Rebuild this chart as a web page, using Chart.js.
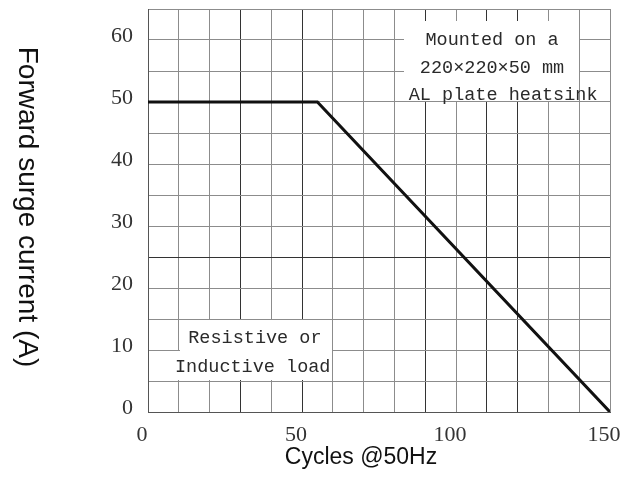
<!DOCTYPE html>
<html>
<head>
<meta charset="utf-8">
<script src="https://cdn.jsdelivr.net/npm/chart.js@4.4.0/dist/chart.umd.min.js"></script>
<style>
    html, body { margin: 0; padding: 0; background: #fff; }
    #wrap { width: 628px; height: 493px; }
</style>
</head>
<body>
<div id="wrap"><canvas id="surgeChart"></canvas></div>
<script>
// Данные кривой (циклы 50 Гц -> ток перегрузки, А)
const cycles = [0, 55, 150];
const surgeCurrent = [50, 50, 0];

// Подписи делений
const xTickLabels = [0, 50, 100, 150];
const yTickLabels = [0, 10, 20, 30, 40, 50, 60];

// Более тёмные линии сетки (как на скане)
const darkXLines = [30, 50, 90, 110, 120];
const darkYLines = [25];

// Тексты надписей
const noteHeatsink = ['Mounted on a', '220×220×50 mm', 'AL plate heatsink'];
const noteLoad = ['Resistive or', 'Inductive load'];

// Где стоят надписи и белые подложки (в единицах осей)
const notes = [
    {
        lines: noteHeatsink,
        x: [111.7, 111.7, 115.3],
        y: [60, 55.5, 51.1],
        boxes: [[82.8, 140.3, 50, 63.2]]
    },
    {
        lines: noteLoad,
        x: [34.7, 34],
        y: [11.9, 7.3],
        boxes: [[10, 60, 5, 15], [0, 60, 5, 10]]
    }
];

// Плагин: белые подложки и тексты внутри графика
const notesPlugin = {
    id: 'notes',
    beforeDatasetsDraw(chart) {
        const ctx = chart.ctx;
        const xs = chart.scales.x;
        const ys = chart.scales.y;
        ctx.save();
        ctx.fillStyle = '#fff';
        notes.forEach(function(note) {
            note.boxes.forEach(function(b) {
                const left = Math.round(xs.getPixelForValue(b[0])) + 1;
                const right = Math.round(xs.getPixelForValue(b[1])) - 1;
                const top = Math.round(ys.getPixelForValue(b[3])) + 1;
                const bottom = Math.round(ys.getPixelForValue(b[2])) - 1;
                ctx.fillRect(left, top, right - left, bottom - top);
            });
        });
        ctx.fillStyle = '#2a2a2a';
        ctx.font = '18.5px "Liberation Mono"';
        ctx.textAlign = 'center';
        ctx.textBaseline = 'middle';
        notes.forEach(function(note) {
            note.lines.forEach(function(text, i) {
                ctx.fillText(text, xs.getPixelForValue(note.x[i]), ys.getPixelForValue(note.y[i]));
            });
        });
        ctx.restore();
    }
};

// Плагин: подписи осей (Y повернута сверху вниз, X чуть левее центра)
const axisTitlesPlugin = {
    id: 'axisTitles',
    afterDraw(chart) {
        const ctx = chart.ctx;
        ctx.save();
        ctx.fillStyle = '#111';
        ctx.textAlign = 'center';
        ctx.textBaseline = 'middle';

        ctx.font = '23px "Liberation Sans"';
        ctx.fillText('Cycles @50Hz', 361, 458);

        ctx.translate(27, 207);
        ctx.rotate(Math.PI / 2);
        ctx.font = '28px "Liberation Sans"';
        ctx.fillText('Forward surge current (A)', 0, 0);
        ctx.restore();
    }
};

const tickFont = { family: '"Liberation Serif"', size: 22 };

new Chart(document.getElementById('surgeChart'), {
    type: 'line',
    data: {
        datasets: [{
            data: cycles.map((c, i) => ({ x: c, y: surgeCurrent[i] })),
            borderColor: '#111',
            borderWidth: 3,
            pointRadius: 0,
            tension: 0,
            fill: false
        }]
    },
    options: {
        responsive: true,
        maintainAspectRatio: false,
        animation: false,
        layout: { padding: { top: 9, right: 18, left: 0, bottom: 0 } },
        plugins: {
            legend: { display: false },
            tooltip: { enabled: false }
        },
        scales: {
            x: {
                type: 'linear',
                min: 0,
                max: 150,
                afterFit: function(scale) {
                    // фиксированная высота оси, без авто-отступов под подписи
                    scale.height = 81;
                    scale.paddingLeft = 0;
                    scale.paddingRight = 0;
                },
                ticks: {
                    stepSize: 10,
                    autoSkip: false,
                    maxRotation: 0,
                    padding: 10,
                    labelOffset: -6,
                    color: '#333',
                    font: tickFont,
                    callback: v => xTickLabels.includes(v) ? String(v) : ''
                },
                grid: {
                    drawTicks: false,
                    color: c => darkXLines.includes(c.tick && c.tick.value) ? '#333' : '#8c8c8c'
                },
                border: { color: '#555' }
            },
            y: {
                min: 0,
                max: 65,
                afterFit: function(scale) {
                    scale.width = 148;
                    scale.paddingTop = 0;
                    scale.paddingBottom = 0;
                },
                ticks: {
                    stepSize: 5,
                    autoSkip: false,
                    padding: 15,
                    labelOffset: -4,
                    color: '#333',
                    font: tickFont,
                    callback: v => yTickLabels.includes(v) ? String(v) : ''
                },
                grid: {
                    drawTicks: false,
                    color: c => darkYLines.includes(c.tick && c.tick.value) ? '#333' : '#8c8c8c'
                },
                border: { color: '#555' }
            }
        }
    },
    plugins: [notesPlugin, axisTitlesPlugin]
});
</script>
</body>
</html>
